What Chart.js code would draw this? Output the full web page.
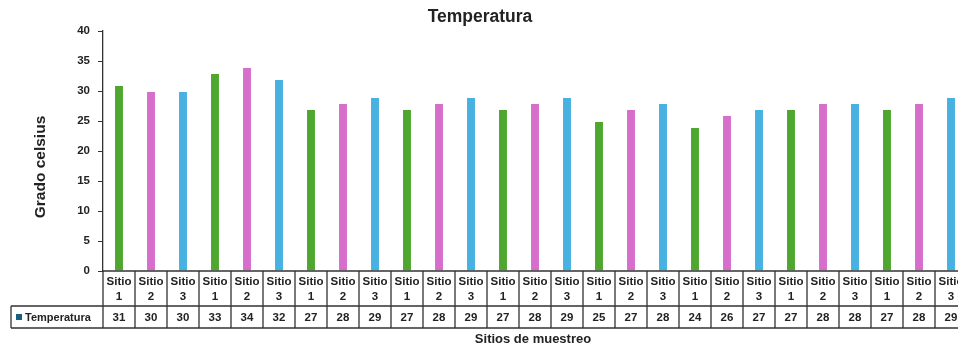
<!DOCTYPE html>
<html>
<head>
<meta charset="utf-8">
<script src="https://cdn.jsdelivr.net/npm/chart.js@4/dist/chart.umd.min.js"></script>
<style>
  html, body { margin: 0; padding: 0; background: #fff; }
  #wrap { width: 958px; height: 345px; overflow: hidden; position: relative; }
  #box { width: 967px; height: 345px; }
</style>
</head>
<body>
<div id="wrap"><div id="box"><canvas id="c"></canvas></div></div>
<script>
// Sampling sites (three per campaign) and measured temperature in °C
const sites = [
  'Sitio 1','Sitio 2','Sitio 3','Sitio 1','Sitio 2','Sitio 3','Sitio 1','Sitio 2','Sitio 3',
  'Sitio 1','Sitio 2','Sitio 3','Sitio 1','Sitio 2','Sitio 3','Sitio 1','Sitio 2','Sitio 3',
  'Sitio 1','Sitio 2','Sitio 3','Sitio 1','Sitio 2','Sitio 3','Sitio 1','Sitio 2','Sitio 3'
];
const temperatura = [31,30,30,33,34,32,27,28,29,27,28,29,27,28,29,25,27,28,24,26,27,27,28,28,27,28,29];
const yTicks = [0,5,10,15,20,25,30,35,40];

const siteColors = { 'Sitio 1': '#4EA72E', 'Sitio 2': '#D86ECC', 'Sitio 3': '#47B1E1' };
const seriesKeyColor = '#156082';
const FONT = '"Liberation Sans", Arial, sans-serif';
const INK = '#222';

// Title, axis titles and the data table under the bars
const decorations = {
  id: 'decorations',
  afterDraw(chart) {
    const ctx = chart.ctx;
    const area = chart.chartArea;
    const x = chart.scales.x;
    ctx.save();
    ctx.fillStyle = INK;
    ctx.textAlign = 'center';
    ctx.textBaseline = 'middle';

    ctx.font = 'bold 17.5px ' + FONT;
    ctx.fillText('Temperatura', 480, 17);

    ctx.font = 'bold 13px ' + FONT;
    ctx.fillText('Sitios de muestreo', 533, 339);

    ctx.save();
    ctx.translate(41, 167);
    ctx.rotate(-Math.PI / 2);
    ctx.font = 'bold 15.5px ' + FONT;
    ctx.fillText('Grado celsius', 0, 0);
    ctx.restore();

    // table grid
    const top = area.bottom;
    const mid = 306;
    const bot = 328;
    const step = x.getPixelForValue(1) - x.getPixelForValue(0);
    const right = x.getPixelForValue(sites.length - 1) + step / 2;
    ctx.strokeStyle = '#333';
    ctx.lineWidth = 1.3;
    ctx.beginPath();
    ctx.moveTo(area.left, top); ctx.lineTo(right, top);
    ctx.moveTo(11, mid); ctx.lineTo(right, mid);
    ctx.moveTo(11, bot); ctx.lineTo(right, bot);
    ctx.moveTo(11, mid); ctx.lineTo(11, bot);
    for (let i = 0; i <= sites.length; i++) {
      const px = x.getPixelForValue(0) - step / 2 + i * step;
      ctx.moveTo(px, top); ctx.lineTo(px, bot);
    }
    ctx.stroke();

    ctx.font = 'bold 11.5px ' + FONT;
    sites.forEach((s, i) => {
      const cx = x.getPixelForValue(i);
      const parts = s.split(' ');
      ctx.fillText(parts[0], cx, 282);
      ctx.fillText(parts[1], cx, 297);
      ctx.fillText(String(temperatura[i]), cx, 317.5);
    });

    // legend key cell
    ctx.fillStyle = seriesKeyColor;
    ctx.fillRect(16, 314, 6, 6);
    ctx.fillStyle = INK;
    ctx.textAlign = 'left';
    ctx.font = 'bold 11px ' + FONT;
    ctx.fillText('Temperatura', 25, 317.5);
    ctx.restore();
  }
};

new Chart(document.getElementById('c'), {
  type: 'bar',
  data: {
    labels: sites,
    datasets: [{
      label: 'Temperatura',
      data: temperatura,
      backgroundColor: sites.map(s => siteColors[s]),
      borderColor: 'rgba(255,255,255,0.35)',
      borderWidth: 1,
      categoryPercentage: 1,
      barPercentage: 0.31
    }]
  },
  options: {
    responsive: true,
    maintainAspectRatio: false,
    animation: false,
    layout: { padding: { left: 0, right: 0, top: 31, bottom: 74 } },
    plugins: {
      legend: { display: false },
      title: { display: false },
      tooltip: { enabled: false }
    },
    scales: {
      x: {
        type: 'category',
        display: false,
        offset: true
      },
      y: {
        min: 0,
        max: 40,
        afterFit(scale) { scale.width = 103; },
        afterBuildTicks(scale) { scale.ticks = yTicks.map(v => ({ value: v })); },
        grid: {
          drawOnChartArea: false,
          drawTicks: true,
          tickLength: 5,
          color: '#333'
        },
        border: { display: true, color: '#333', width: 1.3 },
        ticks: {
          padding: 8,
          color: INK,
          font: { family: FONT, size: 11.5, weight: 'bold' }
        }
      }
    }
  },
  plugins: [decorations]
});
</script>
</body>
</html>
